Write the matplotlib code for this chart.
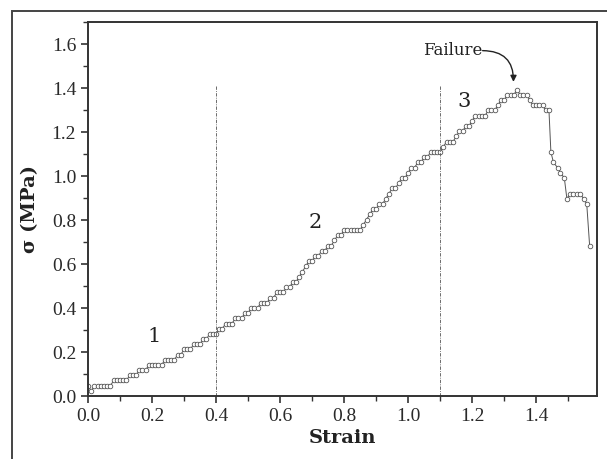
from matplotlib import pyplot as plt
from matplotlib.patches import Rectangle
from matplotlib.ticker import MultipleLocator

# stress-strain readings
strain = [0.00, 0.01, 0.02, 0.03, 0.04, 0.05, 0.06, 0.07, 0.08, 0.09,
          0.10, 0.11, 0.12, 0.13, 0.14, 0.15, 0.16, 0.17, 0.18, 0.19,
          0.20, 0.21, 0.22, 0.23, 0.24, 0.25, 0.26, 0.27, 0.28, 0.29,
          0.30, 0.31, 0.32, 0.33, 0.34, 0.35, 0.36, 0.37, 0.38, 0.39,
          0.40, 0.41, 0.42, 0.43, 0.44, 0.45, 0.46, 0.47, 0.48, 0.49,
          0.50, 0.51, 0.52, 0.53, 0.54, 0.55, 0.56, 0.57, 0.58, 0.59,
          0.60, 0.61, 0.62, 0.63, 0.64, 0.65, 0.66, 0.67, 0.68, 0.69,
          0.70, 0.71, 0.72, 0.73, 0.74, 0.75, 0.76, 0.77, 0.78, 0.79,
          0.80, 0.81, 0.82, 0.83, 0.84, 0.85, 0.86, 0.87, 0.88, 0.89,
          0.90, 0.91, 0.92, 0.93, 0.94, 0.95, 0.96, 0.97, 0.98, 0.99,
          1.00, 1.01, 1.02, 1.03, 1.04, 1.05, 1.06, 1.07, 1.08, 1.09,
          1.10, 1.11, 1.12, 1.13, 1.14, 1.15, 1.16, 1.17, 1.18, 1.19,
          1.20, 1.21, 1.22, 1.23, 1.24, 1.25, 1.26, 1.27, 1.28, 1.29,
          1.30, 1.31, 1.32, 1.33, 1.34, 1.35, 1.36, 1.37, 1.38, 1.39,
          1.40, 1.41, 1.42, 1.43, 1.44,
          1.446, 1.454, 1.467, 1.476, 1.488, 1.496, 1.506, 1.516, 1.527,
          1.538, 1.548, 1.558, 1.567]

stress = [0.047, 0.023, 0.047, 0.047, 0.047, 0.047, 0.047, 0.047, 0.071, 0.071,
          0.071, 0.071, 0.071, 0.094, 0.094, 0.094, 0.118, 0.118, 0.118, 0.141,
          0.141, 0.141, 0.141, 0.141, 0.165, 0.165, 0.165, 0.165, 0.189, 0.189,
          0.212, 0.212, 0.212, 0.236, 0.236, 0.236, 0.259, 0.259, 0.283, 0.283,
          0.283, 0.307, 0.307, 0.330, 0.330, 0.330, 0.354, 0.354, 0.354, 0.377,
          0.377, 0.401, 0.401, 0.401, 0.425, 0.425, 0.425, 0.448, 0.448, 0.472,
          0.472, 0.472, 0.495, 0.495, 0.519, 0.519, 0.543, 0.566, 0.590, 0.613,
          0.613, 0.637, 0.637, 0.661, 0.661, 0.684, 0.684, 0.708, 0.731, 0.731,
          0.755, 0.755, 0.755, 0.755, 0.755, 0.755, 0.779, 0.802, 0.826, 0.849,
          0.849, 0.873, 0.873, 0.897, 0.920, 0.944, 0.944, 0.967, 0.991, 0.991,
          1.015, 1.038, 1.038, 1.062, 1.062, 1.085, 1.085, 1.109, 1.109, 1.109,
          1.109, 1.133, 1.156, 1.156, 1.156, 1.180, 1.203, 1.203, 1.227, 1.227,
          1.251, 1.274, 1.274, 1.274, 1.274, 1.298, 1.298, 1.298, 1.321, 1.345,
          1.345, 1.369, 1.369, 1.369, 1.392, 1.369, 1.369, 1.369, 1.345, 1.321,
          1.321, 1.321, 1.321, 1.298, 1.298,
          1.109, 1.062, 1.038, 1.015, 0.991, 0.897, 0.920, 0.920, 0.920,
          0.920, 0.897, 0.873, 0.684]

# region boundaries and labels
boundaries = [0.4, 1.1]
boundary_top = 1.41
region_labels = ['1', '2', '3']
region_x = [0.205, 0.71, 1.175]
region_y = [0.27, 0.79, 1.34]

tick_font = 'Liberation Serif'

fig = plt.figure(figsize=(6.07, 4.59), dpi=100)
ax = fig.add_axes([0.145, 0.137, 0.8385, 0.815])

# outer frame around the figure
fig.patches.append(Rectangle((0.0198, -0.05), 1.2, 0.05 + 0.976, transform=fig.transFigure,
                             fill=False, edgecolor='#444444', linewidth=1.4))

ax.plot(strain, stress, color='#555555', linewidth=0.7, marker='o', markersize=3.3,
        markerfacecolor='white', markeredgecolor='#555555', markeredgewidth=0.6)

for b in boundaries:
    ax.plot([b, b], [0, boundary_top], color='#555555', linewidth=0.6,
            linestyle=(0, (4, 1.5, 1, 1.5)))

for lab, x, y in zip(region_labels, region_x, region_y):
    ax.text(x, y, lab, fontsize=15, family='DejaVu Serif', color='#222222',
            ha='center', va='center')

ax.annotate('Failure', xy=(1.329, 1.428), xytext=(1.14, 1.57),
            fontsize=12, family='DejaVu Serif', color='#222222',
            ha='center', va='center',
            arrowprops=dict(arrowstyle='-|>', color='#222222', linewidth=1.0,
                            shrinkA=0, shrinkB=0, mutation_scale=9,
                            connectionstyle='arc3,rad=-0.5',
                            patchA=None, relpos=(1.0, 0.5)))

ax.set_xlim(0, 1.59)
ax.set_ylim(0, 1.7)
ax.xaxis.set_major_locator(MultipleLocator(0.2))
ax.xaxis.set_minor_locator(MultipleLocator(0.1))
ax.yaxis.set_major_locator(MultipleLocator(0.2))
ax.yaxis.set_minor_locator(MultipleLocator(0.1))
ax.set_xticks([0.0, 0.2, 0.4, 0.6, 0.8, 1.0, 1.2, 1.4])
ax.xaxis.set_major_formatter(plt.FormatStrFormatter('%.1f'))
ax.yaxis.set_major_formatter(plt.FormatStrFormatter('%.1f'))

ax.tick_params(which='major', direction='out', length=5, width=1.2, color='#333333',
               labelsize=14, labelcolor='#2a2a2a')
ax.tick_params(which='minor', direction='out', length=3.5, width=1.0, color='#333333')
for lab in ax.get_xticklabels() + ax.get_yticklabels():
    lab.set_family(tick_font)
for sp in ax.spines.values():
    sp.set_linewidth(1.4)
    sp.set_color('#333333')

ax.set_xlabel('Strain', fontsize=14, fontweight='bold', family='DejaVu Serif',
              color='#222222', labelpad=3)
ax.set_ylabel('σ (MPa)', fontsize=14, fontweight='bold', family='DejaVu Serif',
              color='#222222', labelpad=9)

fig.savefig('out.png', dpi=100)
